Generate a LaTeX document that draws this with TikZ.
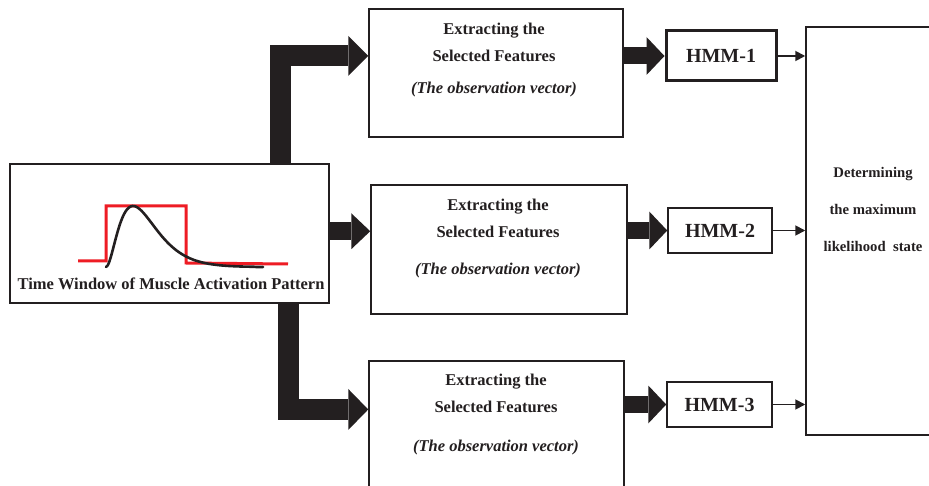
\documentclass[tikz,border=0pt]{standalone}
\usepackage{fontspec}
\setmainfont{Liberation Serif}
\usetikzlibrary{arrows.meta,calc}
\definecolor{ink}{HTML}{231F20}
\definecolor{sigred}{HTML}{EE1C24}
\begin{document}
\begin{tikzpicture}[x=1pt,y=-1pt,
  box/.style={draw=ink, line width=1.5pt, rectangle, inner sep=0pt, fill=white},
  lbl/.style={text=ink, font=\bfseries\fontsize{16.5}{19}\selectfont, inner sep=0pt},
  ilbl/.style={text=ink, font=\bfseries\itshape\fontsize{16.5}{19}\selectfont, inner sep=0pt},
  hmm/.style={text=ink, font=\bfseries\fontsize{20}{24}\selectfont, inner sep=0pt},
  dlbl/.style={text=ink, font=\bfseries\fontsize{14.7}{17}\selectfont, inner sep=0pt},
  fat/.style={draw=ink, line join=miter, line width=#1},
  thin/.style={draw=ink, line width=1.8pt, -{Triangle[length=10pt,width=10pt]}}
]
\path[use as bounding box, clip] (0,0) rectangle (929,486);

% boxes
\node[box, minimum width=319pt, minimum height=139pt] (src) at (169.5,233.5) {};
\node[box, minimum width=254pt, minimum height=128pt] (f1) at (496,73) {};
\node[box, minimum width=256pt, minimum height=129pt] (f2) at (499,249.5) {};
\node[box, minimum width=255pt, minimum height=128pt] (f3) at (496.5,425) {};
\node[box, line width=3pt, minimum width=110pt, minimum height=50pt] (h1) at (721,56) {};
\node[box, minimum width=104pt, minimum height=45pt] (h2) at (720,230.5) {};
\node[box, minimum width=105pt, minimum height=45pt] (h3) at (719.5,404.5) {};
\node[box, minimum width=134pt, minimum height=408pt] (dec) at (873,231) {};

% texts
\node[lbl] (t1a) at (494,31) {Extracting the};
\node[lbl] (t1b) at (494,56) {Selected Features};
\node[ilbl] (t1c) at (494,90) {(The observation vector)};
\node[lbl] (t2a) at (498,207) {Extracting the};
\node[lbl] (t2b) at (498,232) {Selected Features};
\node[ilbl] (t2c) at (498,271) {(The observation vector)};
\node[lbl] (t3a) at (496,382) {Extracting the};
\node[lbl] (t3b) at (496,407) {Selected Features};
\node[ilbl] (t3c) at (496,448) {(The observation vector)};
\node[hmm] at (h1) {HMM-1};
\node[hmm] at (h2) {HMM-2};
\node[hmm] at (h3) {HMM-3};
\node[dlbl] (d1) at (873,174) {Determining};
\node[dlbl] (d2) at (873,209) {the maximum};
\node[dlbl] (d3) at (873,246) {likelihood\ \ state};
\node[lbl] (tw) at (171,284) {Time Window of Muscle Activation Pattern};

% signal
\draw[sigred, line width=3pt, line join=miter]
  (78,261) -- (106,261) -- (106,206) -- (186,206) -- (186,263) -- (288,264);
\draw[ink, line width=2.6pt, line cap=round]
  plot[domain=0:157, samples=90, smooth] ({106+\x},{267-61*(\x/27)^2*exp(2*(1-\x/27))});

% fat arrows
\coordinate (a1) at ($(f1.north west)!0.367!(f1.south west)$);
\coordinate (a2) at ($(f2.north west)!0.36!(f2.south west)$);
\coordinate (a3) at ($(f3.north west)!0.38!(f3.south west)$);
\draw[fat=21pt, -{Triangle[length=20pt,width=40pt,line width=0pt]}]
  (src.north -| 280.5,0) |- (a1);
\draw[fat=18pt, -{Triangle[length=19pt,width=36pt,line width=0pt]}]
  (src.east |- a2) -- (a2);
\draw[fat=21pt, -{Triangle[length=20pt,width=41pt,line width=0pt]}]
  (src.south -| 288,0) |- (a3);
\draw[fat=17pt, -{Triangle[length=18pt,width=38pt,line width=0pt]}]
  (f1.east |- h1) -- (h1.west);
\draw[fat=17pt, -{Triangle[length=18pt,width=38pt,line width=0pt]}]
  (f2.east |- h2) -- (h2.west);
\draw[fat=17pt, -{Triangle[length=18pt,width=38pt,line width=0pt]}]
  (f3.east |- h3) -- (h3.west);

% thin arrows
\draw[thin] (h1.east) -- (dec.west |- h1);
\draw[thin] (h2.east) -- (dec.west |- h2);
\draw[thin] (h3.east) -- (dec.west |- h3);
\end{tikzpicture}
\end{document}
